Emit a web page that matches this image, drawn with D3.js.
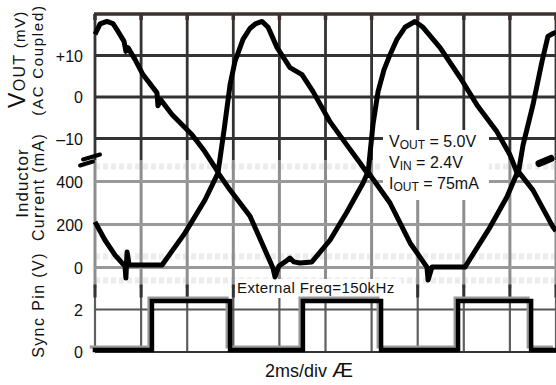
<!DOCTYPE html>
<html><head><meta charset="utf-8">
<script src="https://cdn.jsdelivr.net/npm/d3@7"></script>
<style>
html,body{margin:0;padding:0;background:#fff;}
svg{display:block;font-family:"Liberation Sans",Arial,sans-serif;}
</style></head><body>
<svg id="c" width="556" height="385"></svg>
<script>
// ---- data ----
const timeTicks = [0, 2, 4, 6, 8, 10, 12, 14, 16, 18, 20];
const voutTicks = [10, 0, -10];
const voutTickLabels = ["+10", "0", "\u201310"];
const currentTicks = [400, 200, 0];
const syncTicks = [2, 0];

const voutTime = [0, 0.22, 0.52, 0.78, 1.0, 1.26, 1.34, 1.43, 1.74, 2.08, 2.69, 2.73, 2.86, 3.34, 4.21, 4.77, 5.34, 5.6, 5.86, 6.07, 6.42, 6.72, 6.98, 7.25, 7.51, 7.9, 8.46, 8.98, 9.46, 10.2, 10.93, 11.5, 11.84, 12.06, 12.28, 12.54, 12.8, 13.1, 13.45, 13.88, 14.23, 14.97, 15.84, 16.57, 17.44, 18.0, 18.35, 18.57, 19.0, 19.39, 19.65, 19.87, 20];
const voutMV = [15.1, 17.6, 18.2, 17.7, 15.8, 13.4, 11.0, 11.9, 9.0, 5.4, 1.0, -2.1, -0.7, -4.2, -9.1, -13.2, -18.1, -7.9, 3.0, 8.5, 13.9, 16.5, 17.7, 18.2, 16.8, 11.9, 7.1, 5.4, 1.3, -6.0, -11.6, -15.9, -18.6, -6.6, 1.3, 6.6, 10.2, 13.9, 16.8, 18.2, 16.8, 11.9, 4.7, -1.9, -8.4, -13.9, -18.8, -11.6, -1.9, 8.5, 14.6, 15.3, 15.6];

const currTime = [0, 0.43, 0.87, 1.17, 1.30, 1.34, 1.39, 1.48, 1.65, 2.91, 3.90, 4.77, 5.34, 5.86, 6.72, 7.72, 7.81, 7.98, 8.24, 8.46, 8.63, 8.89, 9.41, 10.2, 10.93, 11.63, 11.84, 12.80, 13.67, 14.40, 14.45, 14.62, 16.05, 17.14, 17.87, 18.35, 19.0, 19.87, 20];
const currMA = [212, 128, 58, 21, 7, -49, 72, 12, 12, 12, 160, 314, 440, 360, 240, -2, -44, 7, 26, 44, 26, 21, 26, 128, 258, 393, 444, 300, 114, 2, -58, 2, 2, 188, 328, 449, 360, 188, 170];

const syncTime = [-0.1, 2.47, 5.86, 9.02, 12.41, 15.75, 18.92, 20];
const syncVolt = [0.1, 2.4, 0.1, 2.4, 0.1, 2.4, 0.1, 0.1];

// ---- scales ----
const x = d3.scaleLinear().domain([0, 20]).range([95, 556]);
const yV = d3.scaleLinear().domain([-10, 20]).range([138.5, 14]);
const yI = d3.scaleLinear().domain([0, 400]).range([267.5, 181.5]);
const yS = d3.scaleLinear().domain([0, 2]).range([352, 309.5]);

const svg = d3.select("#c");
const vTop = yV(20), vBot = (yV(-10) + yI(400)) / 2;
const iBot = (yI(0) + yS(2)) / 2, sBot = yS(0);
const FONT = '"Liberation Sans",Arial,sans-serif';

// ---- light texture in current band ----
const tex = svg.append("g");
[yI(470), yI(0) - 11, yI(0) + 13].forEach(yy => {
  tex.append("line").attr("x1", x(0)).attr("x2", x(20)).attr("y1", yy).attr("y2", yy)
    .attr("stroke", "#ececec").attr("stroke-width", 6).attr("stroke-dasharray", "5,3");
});

// ---- grid ----
const grid = svg.append("g");
const bands = [
  {y1: vTop, y2: vBot, col: "#333", w: 2.8},
  {y1: vBot, y2: iBot, col: "#8e8e8e", w: 3},
  {y1: iBot, y2: sBot, col: "#5e5e5e", w: 2.2}
];
bands.forEach(b => {
  grid.selectAll(null).data(timeTicks).join("line")
    .attr("x1", d => x(d)).attr("x2", d => x(d))
    .attr("y1", b.y1).attr("y2", b.y2)
    .attr("stroke", b.col).attr("stroke-width", b.w);
});
grid.selectAll(null).data(timeTicks).join("line")
  .attr("x1", d => x(d)).attr("x2", d => x(d))
  .attr("y1", iBot - 4).attr("y2", iBot + 9)
  .attr("stroke", "#333").attr("stroke-width", 3);
grid.selectAll(null).data(timeTicks).join("line")
  .attr("x1", d => x(d)).attr("x2", d => x(d))
  .attr("y1", vTop).attr("y2", vTop + 6)
  .attr("stroke", "#3b322e").attr("stroke-width", 3.5);

const hLines = [
  ...voutTicks.map(v => ({y: yV(v), col: "#333", w: 2.8})),
  ...currentTicks.map(v => ({y: yI(v), col: "#999", w: 3})),
  {y: yS(2), col: "#555", w: 2.2}
];
grid.selectAll(null).data(hLines).join("line")
  .attr("x1", x(0)).attr("x2", x(20)).attr("y1", d => d.y).attr("y2", d => d.y)
  .attr("stroke", d => d.col).attr("stroke-width", d => d.w);
grid.append("line").attr("x1", x(0) - 1).attr("x2", x(20)).attr("y1", vTop).attr("y2", vTop)
  .attr("stroke", "#3b322e").attr("stroke-width", 3.5);
grid.append("line").attr("x1", x(0)).attr("x2", x(20)).attr("y1", sBot).attr("y2", sBot)
  .attr("stroke", "#333").attr("stroke-width", 2);

// ---- white label boxes ----
svg.append("rect").attr("x", 383).attr("y", 130).attr("width", 106).attr("height", 70).attr("fill", "#fff");
svg.append("rect").attr("x", 235).attr("y", 279).attr("width", 166).attr("height", 19).attr("fill", "#fff");

// ---- axes (tick labels) ----
function axis(scale, ticks, fmt) {
  const g = svg.append("g").attr("transform", `translate(${x(0)},0)`)
    .call(d3.axisLeft(scale).tickValues(ticks).tickFormat(fmt).tickSize(0).tickPadding(12));
  g.select(".domain").remove();
  g.selectAll("text").attr("font-size", 16).attr("fill", "#111").attr("font-family", FONT)
    .attr("dy", "0.36em");
}
axis(yV, voutTicks, (d, i) => voutTickLabels[i]);
axis(yI, currentTicks, d => d);
axis(yS, syncTicks, d => d);

// ---- rotated titles ----
const t1 = svg.append("text").attr("transform", "translate(25,108) rotate(-90)")
  .attr("fill", "#111").attr("letter-spacing", 1.3);
t1.append("tspan").attr("font-size", 23).text("V");
t1.append("tspan").attr("font-size", 16).text("OUT");
t1.append("tspan").attr("font-size", 15).text(" (mV)");
svg.append("text").attr("transform", "translate(43,60) rotate(-90)").attr("text-anchor", "middle")
  .attr("font-size", 15).attr("letter-spacing", 1.7).attr("fill", "#111").text("(AC Coupled)");
svg.append("text").attr("transform", "translate(28,183) rotate(-90)").attr("text-anchor", "middle")
  .attr("font-size", 17).attr("letter-spacing", 1).attr("fill", "#111").text("Inductor");
svg.append("text").attr("transform", "translate(44,187) rotate(-90)").attr("text-anchor", "middle")
  .attr("font-size", 16).attr("letter-spacing", 1.3).attr("fill", "#111").text("Current (mA)");
svg.append("text").attr("transform", "translate(44,305) rotate(-90)").attr("text-anchor", "middle")
  .attr("font-size", 16).attr("letter-spacing", 1.4).attr("fill", "#111").text("Sync  Pin (V)");

// ---- annotation ----
const ann = [["V", "OUT", " = 5.0V"], ["V", "IN", " = 2.4V"], ["I", "OUT", " = 75mA"]];
ann.forEach((a, i) => {
  const t = svg.append("text").attr("x", 389).attr("y", 147 + i * 21).attr("font-size", 16).attr("fill", "#111");
  t.append("tspan").text(a[0]);
  t.append("tspan").attr("font-size", 12).attr("dy", 2).text(a[1]);
  t.append("tspan").attr("dy", -2).text(a[2]);
});
svg.append("text").attr("x", 237).attr("y", 293).attr("font-size", 15).attr("letter-spacing", 0.4)
  .attr("fill", "#111").text("External Freq=150kHz");

const xl = svg.append("text").attr("x", 265).attr("y", 377).attr("fill", "#111");
xl.append("tspan").attr("font-size", 18).text("2ms/div ");
xl.append("tspan").attr("font-size", 21).text("Æ");

// ---- channel markers ----
const mk = svg.append("g").attr("stroke", "#000").attr("stroke-width", 4).attr("stroke-linecap", "round");
const my = yI(400) - 24;
mk.append("path").attr("d", `M${x(0) - 12},${my + 2} L${x(0) + 5},${my - 3} M${x(0) - 15},${my + 8} L${x(0) - 2},${my + 4}`);
mk.append("path").attr("d", `M${x(20) - 17},${my + 6} L${x(20) - 5},${my + 1}`).attr("stroke-width", 7);

// ---- traces ----
const lineV = d3.line().x((d, i) => x(voutTime[i])).y(d => yV(d)).curve(d3.curveLinear);
const lineI = d3.line().x((d, i) => x(currTime[i])).y(d => yI(d)).curve(d3.curveLinear);
const lineS = d3.line().x((d, i) => x(syncTime[i])).y(d => yS(d)).curve(d3.curveStepAfter);

svg.append("path").attr("d", lineS(syncVolt)).attr("fill", "none")
  .attr("stroke", "#999").attr("stroke-width", 3).attr("transform", "translate(-3,-3)");
svg.append("path").attr("d", lineS(syncVolt)).attr("fill", "none")
  .attr("stroke", "#000").attr("stroke-width", 4.5);
svg.append("path").attr("d", lineI(currMA)).attr("fill", "none")
  .attr("stroke", "#000").attr("stroke-width", 5).attr("stroke-linejoin", "round");
svg.append("path").attr("d", lineV(voutMV)).attr("fill", "none")
  .attr("stroke", "#000").attr("stroke-width", 5).attr("stroke-linejoin", "round");
</script>
</body></html>
